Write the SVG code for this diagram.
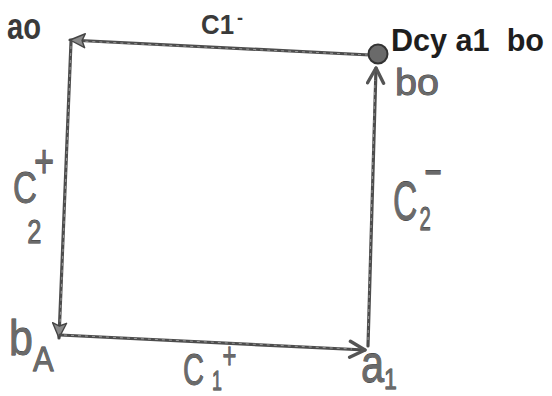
<svg xmlns="http://www.w3.org/2000/svg" width="552" height="396" viewBox="0 0 552 396">
<style>
.edge{fill:none;stroke:#4d4d4d;stroke-width:3.2;stroke-linecap:round}
.tex{fill:none;stroke:#9a9a9a;stroke-width:1;stroke-dasharray:3 4}
.print{font-family:"Liberation Sans","DejaVu Sans",sans-serif;fill:#3a3a3a;font-weight:bold}
.hand{font-family:"Liberation Sans","DejaVu Sans",sans-serif;fill:#6a6a6a;stroke:#333;stroke-width:0.8;paint-order:stroke}
</style>
<defs>
<marker id="tri" markerUnits="userSpaceOnUse" markerWidth="18" markerHeight="16" viewBox="0 0 18 16" refX="16" refY="8" orient="auto">
<path d="M1,1 L16,8 L1,15 L4,8 Z" fill="#8a8a8a" stroke="#444" stroke-width="1.4" stroke-linejoin="round"/>
</marker>
<marker id="vee" markerUnits="userSpaceOnUse" markerWidth="20" markerHeight="20" viewBox="0 0 20 20" refX="18" refY="10" orient="auto">
<path d="M3,2 L18,10 L3,18" fill="none" stroke="#555" stroke-width="3.4" stroke-linejoin="round" stroke-linecap="round"/>
</marker>
</defs>
<rect width="552" height="396" fill="#fff"/>

<g id="connectors">
<g id="e-c1minus">
<line class="edge" x1="370" y1="55" x2="70" y2="40" marker-end="url(#tri)"/>
<line class="tex" x1="368" y1="55" x2="80" y2="41"/>
<text class="print" x="201" y="34" font-size="28"><tspan textLength="33" lengthAdjust="spacingAndGlyphs">C1</tspan><tspan x="237" y="24" font-size="18">-</tspan></text>
</g>
<g id="e-c2plus">
<line class="edge" x1="71" y1="42" x2="59" y2="338" marker-end="url(#tri)"/>
<line class="tex" x1="71" y1="46" x2="60" y2="325"/>
<text class="hand" transform="translate(13,0) scale(0.75,1)" font-size="44"><tspan x="0" y="203">C</tspan><tspan x="28" y="177" font-size="46">+</tspan><tspan x="19" y="243" font-size="34">2</tspan></text>
</g>
<g id="e-c1plus">
<line class="edge" x1="60" y1="335" x2="365" y2="350" marker-end="url(#vee)"/>
<line class="tex" x1="64" y1="335" x2="352" y2="349"/>
<text class="hand" transform="translate(183,0) scale(0.66,1)" font-size="44"><tspan x="0" y="385">C</tspan><tspan x="44" y="390" font-size="27">1</tspan><tspan x="60" y="368" font-size="36">+</tspan></text>
</g>
<g id="e-c2minus">
<line class="edge" x1="368" y1="346" x2="376" y2="68" marker-end="url(#vee)"/>
<line class="tex" x1="368" y1="340" x2="375" y2="80"/>
<text class="hand" transform="translate(393,0) scale(0.6,1)" font-size="56"><tspan x="0" y="220">C</tspan><tspan x="52" y="189" font-size="50">−</tspan><tspan x="44" y="230" font-size="34">2</tspan></text>
<text class="hand" x="395" y="95" font-size="37" textLength="44" lengthAdjust="spacingAndGlyphs">bo</text>
</g>
</g>

<g id="node-a0">
<text class="print" x="7" y="39" font-size="36" textLength="34" lengthAdjust="spacingAndGlyphs">ao</text>
</g>
<g id="node-start">
<circle cx="378" cy="54" r="9.5" fill="#6a6a6a" stroke="#333" stroke-width="2"/>
<text x="391" y="51" font-family="'Liberation Sans','DejaVu Sans',sans-serif" font-size="32" font-weight="bold" fill="#1e1e1e" textLength="153" lengthAdjust="spacingAndGlyphs" style="white-space:pre">Dcy a1  bo</text>
</g>
<g id="node-bA">
<text class="hand" transform="translate(9,0) scale(0.86,1)" font-size="50"><tspan x="0" y="355">b</tspan><tspan x="28" y="371" font-size="36">A</tspan></text>
</g>
<g id="node-a1">
<text class="hand" transform="translate(361,0) scale(0.77,1)" font-size="54"><tspan x="0" y="382">a</tspan><tspan x="30" y="389" font-size="30">1</tspan></text>
</g>
</svg>
